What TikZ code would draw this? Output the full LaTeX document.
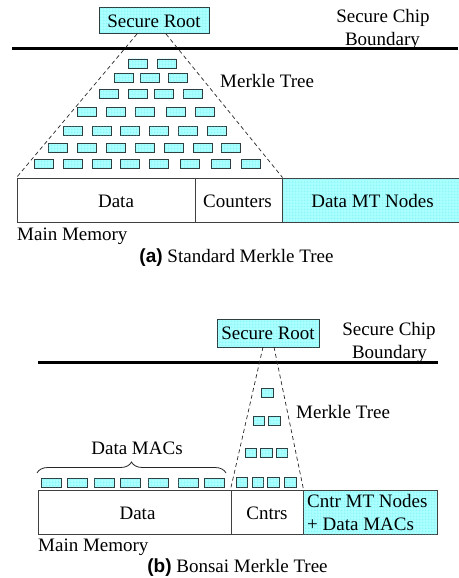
\documentclass[tikz,border=0pt]{standalone}
\usepackage{fontspec}
\setmainfont{Liberation Serif}
\newfontfamily\capsans{Liberation Sans}
\usetikzlibrary{patterns.meta,decorations.pathreplacing}
\definecolor{cyanfill}{RGB}{170,255,255}
\definecolor{cyangrid}{RGB}{80,228,236}
\definecolor{boxline}{RGB}{45,60,60}
\tikzdeclarepattern{
  name=finegrid,
  type=uncolored,
  bounding box={(0,0) and (2.7pt,2.7pt)},
  tile size={(2.7pt,2.7pt)},
  code={\draw[line width=0.4pt] (0pt,0pt) -- (2.7pt,0pt) (0pt,0pt) -- (0pt,2.7pt);}
}
\tikzset{
  txt/.style={font=\fontsize{19}{23}\selectfont, inner sep=0pt},
  cy/.style={fill=cyanfill, postaction={pattern={finegrid}, pattern color=cyangrid}},
  leaf/.style={cy, draw=boxline, line width=0.9pt, inner sep=0pt, minimum width=19pt, minimum height=9pt},
  sleaf/.style={cy, draw=boxline, line width=0.9pt, inner sep=0pt, minimum width=11.5pt, minimum height=9.5pt},
  mac/.style={cy, draw=boxline, line width=0.9pt, inner sep=0pt, minimum width=20pt, minimum height=9pt},
  rootbox/.style={cy, draw=boxline, line width=1pt, inner sep=0pt, font=\fontsize{19}{23}\selectfont},
  memcell/.style={draw=black!75, line width=1pt, inner sep=0pt, minimum height=44pt},
  boundary/.style={line width=3pt},
  mtedge/.style={dashed, dash pattern=on 4pt off 3pt, line width=0.7pt, draw=black!85}
}
\begin{document}
\begin{tikzpicture}[x=1pt,y=-1pt]
\useasboundingbox (0,0) rectangle (458,578);

% ================= (a) Standard Merkle Tree =================
\node[rootbox, minimum width=110pt, minimum height=26pt] (roota) at (154,21) {Secure Root};
\node[txt, anchor=base] (chipa1) at (383,23) {Secure Chip};
\node[txt, anchor=base] (chipa2) at (382.5,46) {Boundary};
\coordinate (bla) at (12,49);
\coordinate (bra) at (458,49);
\draw[boundary] (bla) -- (bra);

\foreach \y/\xs [count=\r] in {
  63.5/{137.5,166.5},
  77.5/{123.5,149.5,177.5},
  94/{108.5,137.5,163.5,192.5},
  112/{86.5,115.5,144.5,175.5,204.5},
  130.5/{72.5,101.5,129.5,158.5,187.5,216.5},
  147.5/{57.5,86.5,115.5,144.5,173.5,202.5,230.5},
  164/{43.5,72.5,101.5,129.5,158.5,189.5,220.5,250.5}} {
  \foreach \x [count=\c] in \xs {
    \node[leaf] (ta\r-\c) at (\x,\y) {};
  }
}
\node[txt, anchor=base west] (mta) at (220,88) {Merkle Tree};

% memory (a)
\node[memcell, minimum width=178pt] (mema1) at (106,200) {};
\node[memcell, minimum width=87pt] (mema2) at (238.5,200) {};
\node[memcell, cy, minimum width=181pt] (mema3) at (372.5,200) {};
\node[txt, anchor=base] (tdataa) at (116,207) {Data};
\node[txt, anchor=base] (tcnta) at (237.5,207) {Counters};
\node[txt, anchor=base] (tmtna) at (372.5,207) {Data MT Nodes};

\coordinate (dla) at (137,34);
\coordinate (dra) at (166,34);
\draw[mtedge] (dla) -- (mema1.north west);
\draw[mtedge] (dra) -- (mema2.north east);

\node[txt, anchor=base west] (mma) at (17,240) {Main Memory};
\node[txt, anchor=base] (capa) at (236.5,262) {{\capsans\bfseries (a)} Standard Merkle Tree};

% ================= (b) Bonsai Merkle Tree =================
\node[rootbox, minimum width=102pt, minimum height=28pt] (rootb) at (268,333) {Secure Root};
\node[txt, anchor=base] (chipb1) at (389,335) {Secure Chip};
\node[txt, anchor=base] (chipb2) at (389.5,358) {Boundary};
\coordinate (blb) at (38,362);
\coordinate (brb) at (438,362);
\draw[boundary] (blb) -- (brb);

\foreach \y/\xs [count=\r] in {
  393/{267.5},
  421/{259,274.5},
  453/{251,266.5,282},
  482.5/{242,258,273.5,290.5}} {
  \foreach \x [count=\c] in \xs {
    \node[sleaf] (tb\r-\c) at (\x,\y) {};
  }
}
\node[txt, anchor=base west] (mtb) at (296,418) {Merkle Tree};

\foreach \x [count=\c] in {51,77.5,104,130,158,188,214} {
  \node[mac] (mac\c) at (\x,482.5) {};
}
\coordinate (brl) at (37,473);
\coordinate (brr) at (226,473);
\draw[decorate, decoration={brace, amplitude=11pt}, line width=0.8pt, black!85] (brl) -- (brr);
\node[txt, anchor=base] (tmacs) at (137,454) {Data MACs};

% memory (b)
\node[memcell, minimum width=193pt] (memb1) at (134.5,512) {};
\node[memcell, minimum width=72pt] (memb2) at (267,512) {};
\node[memcell, cy, minimum width=134pt] (memb3) at (370,512) {};
\node[txt, anchor=base] (tdatab) at (137.5,519) {Data};
\node[txt, anchor=base] (tcntb) at (267,519) {Cntrs};
\node[txt, anchor=base west] (tmtnb1) at (307,507) {Cntr MT Nodes};
\node[txt, anchor=base west] (tmtnb2) at (307,530) {+ Data MACs};

\coordinate (dlb) at (263,347);
\coordinate (drb) at (274,347);
\draw[mtedge] (dlb) -- (memb2.north west);
\draw[mtedge] (drb) -- (memb2.north east);

\node[txt, anchor=base west] (mmb) at (38,551) {Main Memory};
\node[txt, anchor=base] (capb) at (237.5,572) {{\capsans\bfseries (b)} Bonsai Merkle Tree};
\end{tikzpicture}
\end{document}
